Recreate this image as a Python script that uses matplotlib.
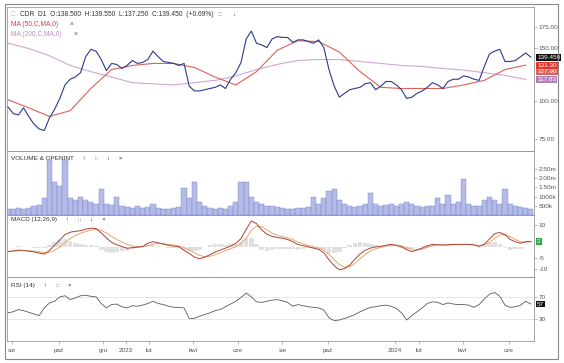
import numpy as np
import pandas as pd
import matplotlib
matplotlib.use("Agg")
import matplotlib.pyplot as plt
from matplotlib.ticker import FixedLocator, NullLocator
from matplotlib.transforms import blended_transform_factory
from matplotlib.patches import Rectangle

plt.rcParams['font.family'] = ['Liberation Sans', 'DejaVu Sans']

# ---------------- data ----------------
start_date, end_date = "2022-07-26", "2024-07-02"

close = [95.6, 91, 90, 95, 89, 84, 81, 80, 88, 94,
         102, 113, 118, 120, 124, 140, 148, 146, 137, 126,
         133, 132, 128, 131, 136, 133, 134, 137, 146, 140,
         135, 134, 133, 131, 133, 112, 108, 108, 109, 110,
         111, 113, 110, 118, 124, 134, 160, 170, 155, 153,
         150, 160, 163, 162, 162, 156, 159, 159, 157, 155,
         159, 150, 127, 112, 103, 106, 109, 110, 111, 114,
         115, 109, 112, 116, 116, 113, 109, 102, 103, 106,
         108, 111, 115, 113, 110, 116, 118, 118, 121, 120,
         118, 117, 130, 143, 146, 148, 135, 135, 136, 140,
         144, 139.45]

ma50 = [101, 95, 89, 93, 110, 127, 131, 133, 133, 129, 120, 113, 125,
        147, 158, 157, 145, 125, 111, 110, 110, 110, 113, 117, 127, 131.3]
ma200 = [155, 149, 141, 131, 125, 120, 115, 114, 113, 115, 117, 121, 127,
         132, 136, 137, 137, 135, 133, 131, 130, 128, 126.5, 124, 121.5, 117.83]

volume_m = [0.35, 0.3, 0.4, 0.35, 0.4, 0.5, 0.55, 0.9, 2.96, 1.8,
            1.57, 2.96, 0.9, 0.8, 1.0, 0.8, 0.7, 0.6, 1.39, 0.6,
            0.55, 1.0, 0.5, 0.45, 0.4, 0.5, 0.4, 0.45, 0.6, 0.4,
            0.35, 0.35, 0.4, 0.45, 1.48, 0.9, 1.8, 0.7, 0.5, 0.4,
            0.35, 0.4, 0.35, 0.5, 0.7, 1.8, 1.76, 1.0, 0.7, 0.6,
            0.5, 0.5, 0.45, 0.4, 0.35, 0.35, 0.4, 0.4, 0.45, 1.0,
            0.6, 0.9, 1.3, 1.39, 0.8, 0.6, 0.5, 0.45, 0.5, 0.6,
            1.2, 0.6, 0.5, 0.55, 0.6, 0.5, 0.6, 0.7, 0.6, 0.5,
            0.45, 0.5, 0.5, 0.9, 0.6, 1.1, 0.6, 0.7, 1.94, 0.6,
            0.5, 0.5, 0.8, 0.95, 0.8, 0.6, 1.4, 0.6, 0.5, 0.45,
            0.4, 0.35]

macd = [-2.1, -1.8, -1.4, -1.6, -1.9, -2.2, -2.8, -3.2, -1.6, 0.8,
        3.2, 5.6, 6.7, 7.1, 7.4, 8.1, 8.5, 8.4, 6.4, 4.1,
        2.1, 1.0, 0.2, -0.6, -0.3, -0.1, 0.2, 1.7, 2.4, 1.9,
        1.3, 0.7, 0.4, 0.1, -1.5, -2.9, -4.6, -5.3, -4.6, -3.5,
        -2.3, -1.4, -0.5, 0.4, 1.7, 3.8, 8.0, 11.8, 10.6, 7.8,
        5.8, 4.8, 4.3, 4.0, 3.4, 2.4, 1.1, 0.6, 0.1, -0.5,
        -1.1, -2.6, -5.8, -8.5, -10.3, -9.8, -8.2, -5.5, -3.2, -1.5,
        -0.5, 0.0, 0.3, 0.8, 1.2, 0.7, 0.1, -1.2, -2.1, -1.3,
        -0.5, 0.5, 1.2, 1.0, 0.9, 1.0, 1.2, 1.2, 1.2, 1.2,
        0.9, 0.3, 1.3, 3.6, 6.0, 6.6, 5.5, 3.4, 2.4, 1.7,
        2.4, 2.5]
signal = [-2.0, -1.9, -1.7, -1.6, -1.7, -1.9, -2.2, -2.6, -2.4, -1.5,
          0.0, 2.0, 3.8, 5.2, 6.2, 7.0, 7.6, 8.0, 7.6, 6.3,
          4.8, 3.4, 2.2, 1.2, 0.5, 0.2, 0.1, 0.6, 1.3, 1.6,
          1.5, 1.2, 0.9, 0.5, -0.3, -1.3, -2.6, -3.8, -4.4, -4.2,
          -3.5, -2.6, -1.6, -0.8, 0.2, 1.6, 4.0, 7.5, 9.4, 9.2,
          7.8, 6.3, 5.3, 4.7, 4.1, 3.3, 2.3, 1.4, 0.7, 0.1,
          -0.5, -1.4, -3.3, -5.8, -8.0, -9.2, -9.0, -7.4, -5.3, -3.4,
          -1.8, -0.8, -0.2, 0.4, 0.8, 0.9, 0.5, -0.3, -1.2, -1.4,
          -1.0, -0.2, 0.6, 0.9, 0.9, 0.9, 1.0, 1.1, 1.1, 1.2,
          1.0, 0.6, 0.8, 2.0, 3.9, 5.4, 5.8, 4.7, 3.4, 2.4,
          2.2, 2.3]

rsi = [41, 43, 47, 45, 42, 39, 36, 50, 59, 62,
       70, 72, 65, 68, 72, 73, 71, 70, 58, 50,
       56, 57, 52, 50, 54, 53, 55, 58, 62, 58,
       56, 53, 51, 51, 50, 31, 31, 35, 38, 41,
       45, 47, 52, 57, 62, 69, 77, 70, 61, 60,
       62, 64, 65, 63, 60, 53, 56, 54, 52, 51,
       50, 46, 32, 27, 28, 31, 34, 38, 43, 47,
       51, 52, 54, 55, 53, 49, 41, 28, 36, 43,
       50, 58, 61, 60, 56, 59, 57, 56, 56, 55,
       51, 56, 66, 75, 78, 71, 55, 51, 52, 55,
       62, 57]

tick_months = ["2022-08-01", "2022-10-01", "2022-12-01", "2023-01-01", "2023-02-01",
               "2023-04-01", "2023-06-01", "2023-08-01", "2023-10-01", "2024-01-01",
               "2024-02-01", "2024-04-01", "2024-06-01"]
tick_labels = ["sie", "paź", "gru", "2023", "lut", "kwi", "cze", "sie", "paź",
               "2024", "lut", "kwi", "cze"]

price_ticks = [75, 100, 150, 175]
vol_ticks = [0.5, 1.0, 1.5, 2.0, 2.5]
vol_tick_labels = ["500k", "1000k", "1.50m", "2.00m", "2.50m"]
macd_ticks = [10, -5, -10]
rsi_ticks = [70, 30]

# ---------------- positions on a trading-day axis ----------------
days = pd.bdate_range(start_date, end_date)
n_days = len(days)
wk_x = np.arange(0, n_days, 5)[:len(close)]
ma_x = np.arange(0, n_days, 20)[:len(ma50)]
tick_x = np.searchsorted(days.values, pd.to_datetime(tick_months).values)

W, H = 564, 363
fig = plt.figure(figsize=(W / 100, H / 100), dpi=100)
fig.patch.set_facecolor("white")


def px_box(x0, y0, x1, y1):
    return [x0 / W, 1 - y1 / H, (x1 - x0) / W, (y1 - y0) / H]


XL, XR = 7, 534
GRAY = "#9a9a9a"
TXT = "#555555"
FS = 4.6

ax_p = fig.add_axes(px_box(XL, 7, XR, 151))
ax_v = fig.add_axes(px_box(XL, 151, XR, 215), sharex=ax_p)
ax_m = fig.add_axes(px_box(XL, 215, XR, 277), sharex=ax_p)
ax_r = fig.add_axes(px_box(XL, 277, XR, 341), sharex=ax_p)

for ax in (ax_p, ax_v, ax_m, ax_r):
    for s in ax.spines.values():
        s.set_color(GRAY)
        s.set_linewidth(0.6)
    ax.yaxis.tick_right()
    ax.tick_params(axis="y", which="both", length=2, width=0.5, colors=GRAY,
                   labelcolor=TXT, labelsize=FS, pad=1.5)
    ax.tick_params(axis="x", which="both", length=0, labelbottom=False)
    ax.set_xlim(-1, n_days + 2)
    ax.patch.set_alpha(0)

# price panel
ax_p.set_yscale("log")
ax_p.plot(ma_x, ma200, color="#d4a5cf", lw=0.8, zorder=2)
ax_p.plot(ma_x, ma50, color="#e0605a", lw=0.8, zorder=3)
ax_p.plot(wk_x, close, color="#2c3a8c", lw=0.8, zorder=4)
ax_p.set_ylim(68.5, 204)
ax_p.yaxis.set_major_locator(FixedLocator(price_ticks))
ax_p.yaxis.set_minor_locator(NullLocator())
ax_p.set_yticklabels([f"{t:.2f}" for t in price_ticks])

# volume panel
ax_v.bar(wk_x, volume_m, width=5.0, color="#b4bbe6", edgecolor="#7682cc", linewidth=0.3)
ax_v.set_ylim(0, 3.46)
ax_v.yaxis.set_major_locator(FixedLocator(vol_ticks))
ax_v.set_yticklabels(vol_tick_labels)

# MACD panel
hist = np.array(macd) - np.array(signal)
ax_m.bar(wk_x, hist, width=4.5, color="#e0e0e0", linewidth=0)
ax_m.plot(wk_x, signal, color="#e2a86a", lw=0.7)
ax_m.plot(wk_x, macd, color="#b0413a", lw=0.7)
ax_m.set_ylim(-13.6, 14.5)
ax_m.yaxis.set_major_locator(FixedLocator(macd_ticks))
ax_m.set_yticklabels([str(t) for t in macd_ticks])

# RSI panel
for lvl in rsi_ticks:
    ax_r.axhline(lvl, color="#e2e2e2", lw=0.6, zorder=1)
ax_r.plot(wk_x, rsi, color="#5a5a5a", lw=0.6, zorder=3)
ax_r.set_ylim(-10, 106)
ax_r.yaxis.set_major_locator(FixedLocator(rsi_ticks))
ax_r.set_yticklabels([str(t) for t in rsi_ticks])

# x axis
ax_r.xaxis.set_major_locator(FixedLocator(tick_x))
ax_r.set_xticklabels(tick_labels)
ax_r.tick_params(axis="x", length=2, width=0.5, colors=GRAY, labelcolor=TXT,
                 labelsize=FS, labelbottom=True, pad=3)


# value boxes on right axis
def value_box(ax, y, text, fc, tc="white"):
    tr = blended_transform_factory(ax.transAxes, ax.transData)
    ax.text(1.006, y, text, transform=tr, fontsize=FS, color=tc, va="center", ha="left",
            clip_on=False, zorder=10,
            bbox=dict(boxstyle="square,pad=0.15", fc=fc, ec="none"))


value_box(ax_p, 117.83, "117.83", "#b57fba")
value_box(ax_p, 125.5, "127.90", "#e0605a")
value_box(ax_p, 131.3, "131.30", "#e8352b")
value_box(ax_p, 139.45, "139.450", "#111111")
value_box(ax_m, 2.4, "2", "#2ea84a")
value_box(ax_r, 57, "57", "#111111")


# panel titles
def ftext(x, y, s, color=TXT, fs=FS, **kw):
    fig.text(x / W, 1 - y / H, s, fontsize=fs, color=color, va="center", ha="left", **kw)


ftext(11, 14, "□", color="#bbbbbb", fs=5)
ftext(20, 14, "CDR  D1  O:138.500  H:139.550  L:137.250  C:139.450  (+0.69%)", color="#333333", fs=4.8)
ftext(218, 14, "::      ↓", color="#555555", fs=4.8)
ftext(11, 24, "MA (50,C,MA,0)", color="#e0403a", fs=4.8)
ftext(70, 24, "×", color="#555555", fs=4.8)
ftext(11, 34, "MA (200,C,MA,0)", color="#c48ac0", fs=4.8)
ftext(74, 34, "×", color="#555555", fs=4.8)
ftext(11, 159, "VOLUME & OPENINT     ↑     ::     ↓     ×", color="#333333")
ftext(11, 220, "MACD (12,26,9)     ↑     ::     ↓     ×", color="#333333")
ftext(11, 285, "RSI (14)     ↑     ::     ×", color="#333333")

# outer frame
fig.add_artist(Rectangle((5 / W, 1 - 359 / H), (553) / W, (355) / H, transform=fig.transFigure,
                         fill=False, ec="#888888", lw=0.8))

fig.savefig("out.png", dpi=100, facecolor="white")
